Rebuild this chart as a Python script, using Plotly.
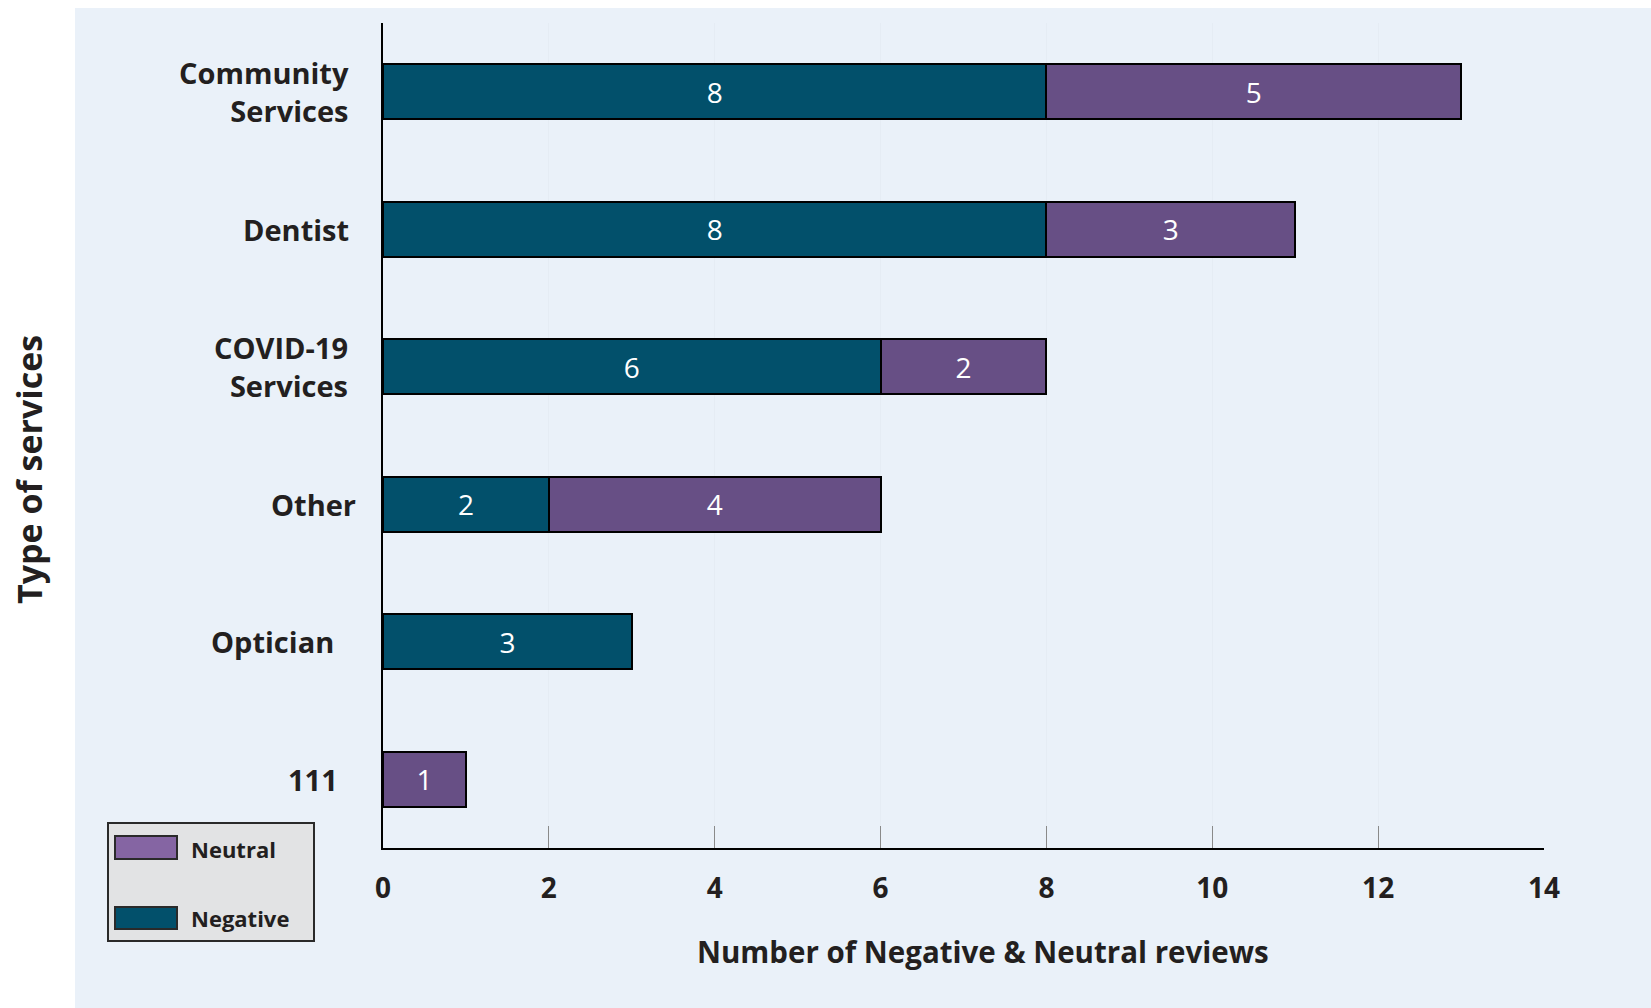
import plotly.graph_objects as go

categories = ["Community<br>Services", "Dentist", "COVID-19<br>Services", "Other", "Optician", "111"]
negative = [8, 8, 6, 2, 3, None]
neutral = [5, 3, 2, 4, None, 1]
x_ticks = [0, 2, 4, 6, 8, 10, 12, 14]
legend_labels = ["Neutral", "Negative"]

# horizontal gap (px) between each category label and the y axis
label_gaps = [32, 32, 33, 25, 47, 43]

W, H = 1651, 1008
L, R, T, B = 383, 107, 23, 160
PW, PH = W - L - R, H - T - B

def px(x):
    return (x - L) / PW

def py(y):
    return (H - B - y) / PH

NEG_COLOR = "#02506B"
NEU_COLOR = "#674F85"
NEU_LEG = "#8565A3"
TXT = "#231F20"
FONT = "Open Sans"

def texts(vals):
    return [str(v) if v is not None else "" for v in vals]

fig = go.Figure()
fig.add_trace(go.Bar(
    y=categories, x=negative, orientation="h", name="Negative",
    marker=dict(color=NEG_COLOR, line=dict(color="black", width=2)),
    text=texts(negative), textposition="inside", insidetextanchor="middle",
    textfont=dict(family=FONT, size=28, color="white"),
))
fig.add_trace(go.Bar(
    y=categories, x=neutral, orientation="h", name="Neutral",
    marker=dict(color=NEU_COLOR, line=dict(color="black", width=2)),
    text=texts(neutral), textposition="inside", insidetextanchor="middle",
    textfont=dict(family=FONT, size=28, color="white"),
))

shapes = [
    dict(type="rect", xref="paper", yref="paper", layer="below",
         x0=px(75), x1=px(W + 5), y0=py(H + 5), y1=py(8),
         fillcolor="#EAF1F9", line=dict(width=0)),
    # legend box
    dict(type="rect", xref="paper", yref="paper",
         x0=px(108), x1=px(314), y0=py(941), y1=py(823),
         fillcolor="#E2E3E4", line=dict(color="#2A2A2A", width=2)),
    dict(type="rect", xref="paper", yref="paper",
         x0=px(115), x1=px(177), y0=py(859), y1=py(836),
         fillcolor=NEU_LEG, line=dict(color="#2A2A2A", width=2)),
    dict(type="rect", xref="paper", yref="paper",
         x0=px(115), x1=px(177), y0=py(929), y1=py(907),
         fillcolor=NEG_COLOR, line=dict(color="#2A2A2A", width=2)),
]

annotations = [
    dict(text=legend_labels[0], xref="paper", yref="paper", x=px(189), y=py(849),
         xanchor="left", yanchor="middle", showarrow=False,
         font=dict(family=FONT, size=22, color=TXT, weight="bold")),
    dict(text=legend_labels[1], xref="paper", yref="paper", x=px(189), y=py(918),
         xanchor="left", yanchor="middle", showarrow=False,
         font=dict(family=FONT, size=22, color=TXT, weight="bold")),
    dict(text="Number of Negative &amp; Neutral reviews", xref="paper", yref="paper",
         x=px(983), y=py(952), xanchor="center", yanchor="middle", showarrow=False,
         font=dict(family=FONT, size=29.5, color=TXT, weight="bold")),
    dict(text="Type of services", xref="paper", yref="paper", textangle=-90,
         x=px(29), y=py(470), xanchor="center", yanchor="middle", showarrow=False,
         font=dict(family=FONT, size=34, color=TXT, weight="bold")),
]

for i, (cat, gap) in enumerate(zip(categories, label_gaps)):
    annotations.append(dict(
        text=cat, xref="paper", yref="y", x=0, y=i, xanchor="right", yanchor="middle",
        xshift=-gap, showarrow=False, align="right",
        font=dict(family=FONT, size=29, color=TXT, weight="bold")))

fig.update_layout(
    width=W, height=H, autosize=False,
    margin=dict(l=L, r=R, t=T, b=B, pad=0),
    paper_bgcolor="white", plot_bgcolor="rgba(0,0,0,0)",
    barmode="stack", bargap=0.6, showlegend=False,
    shapes=shapes, annotations=annotations,
    xaxis=dict(range=[0, 14], tickvals=x_ticks, showline=True, linecolor="black",
               linewidth=2, ticks="inside", ticklen=22, tickcolor="#8A8A8A", tickwidth=1,
               showgrid=True, gridcolor="#E5ECF4", gridwidth=1, zeroline=False,
               ticklabelstandoff=14,
               tickfont=dict(family=FONT, size=28, color=TXT, weight="bold")),
    yaxis=dict(type="category", categoryorder="array", categoryarray=categories,
               range=[len(categories) - 0.5, -0.5], autorange=False,
               showline=True, linecolor="black", linewidth=2,
               showgrid=False, ticks="", showticklabels=False),
)

fig.write_html("out.html")
